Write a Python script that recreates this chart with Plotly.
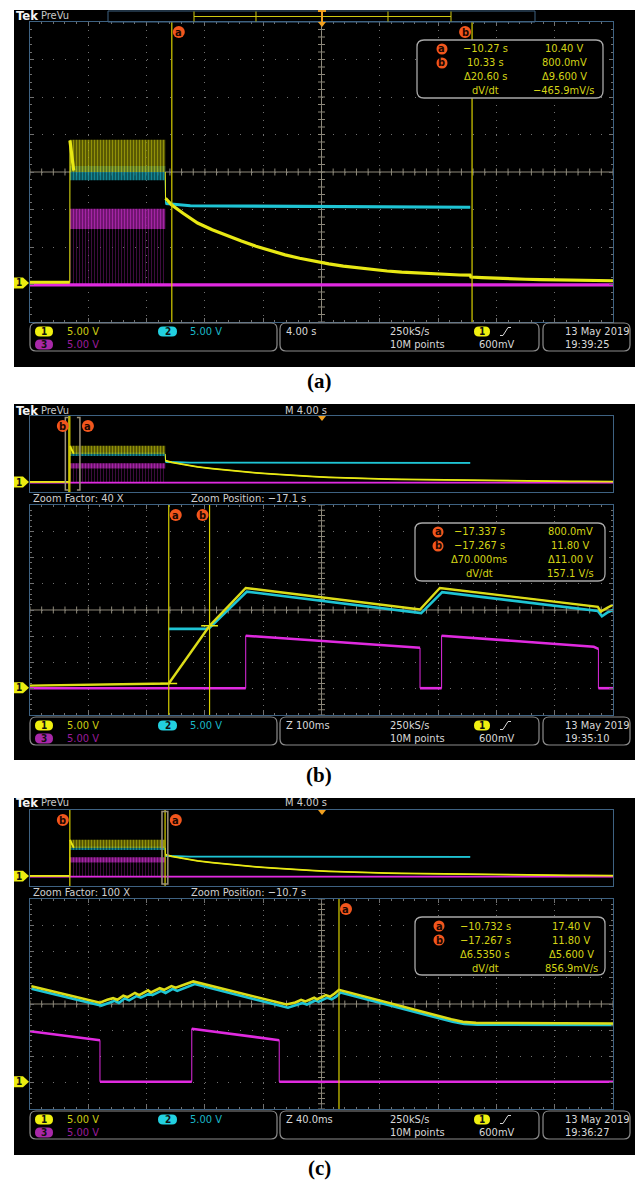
import numpy as np
import plotly.graph_objects as go

W, H = 638, 1182
SCREEN = "DejaVu Sans Condensed, Liberation Sans Narrow, sans-serif"
SERIF = "Liberation Serif, Times New Roman, serif"

# ======================= DATA =======================
# Full 40 s record (panel a and the overview strips of panels b, c): seconds / volts
rec_yel_t = [-20.0, -17.27, -17.26, -17.0, None, -10.72, -10.70, -10.27, -9.5, -8.5, -7.5, -6.5,
             -5.5, -4.5, -3.5, -2.5, -1.5, -0.5, 0.5, 1.5, 2.5, 3.5, 4.5, 5.5, 6.5, 7.5, 8.5,
             9.5, 10.2, 10.25, 11.0, 12.0, 13.0, 14.0, 15.0, 16.0, 17.0, 18.0, 19.0, 20.0]
rec_yel_v = [0.1, 0.1, 19.0, 15.0, None, 14.8, 11.3, 10.4, 9.3, 8.0, 7.1, 6.3,
             5.6, 4.9, 4.3, 3.75, 3.3, 2.9, 2.55, 2.25, 2.0, 1.8, 1.6, 1.45, 1.33, 1.22, 1.13,
             1.07, 1.05, 0.8, 0.72, 0.62, 0.55, 0.5, 0.45, 0.42, 0.38, 0.35, 0.32, 0.3]
rec_cyn_t = [-10.72, -10.70, -9.0, 10.2]
rec_cyn_v = [13.7, 10.6, 10.3, 10.1]
rec_mag_t = [-20.0, 20.0]
rec_mag_v = [-0.25, -0.25]
# switching burst envelopes
burst_t = [-17.25, -10.72]
burst_yel_lo, burst_yel_hi = [14.8, 14.8], [19.1, 19.1]
burst_cyn_lo, burst_cyn_hi = [13.7, 13.7], [15.6, 15.6]
burst_mag_lo, burst_mag_hi = [7.2, 7.2], [9.9, 9.9]
burst_pulse_lo, burst_pulse_hi = [-0.2, -0.2], [7.2, 7.2]

# Panel b zoom window (40 X)
zb_yel_t = [-17.575, -17.337, -17.30, -17.267, -17.235, -17.205, -16.906, -16.872, -16.601, -16.596, -16.585, -16.575]
zb_yel_v = [0.4, 0.8, 6.6, 11.8, 15.5, 19.0, 14.9, 19.0, 15.4, 14.5, 15.2, 15.8]
zb_cyn_t = [-17.337, -17.274, -17.267, -17.235, -17.203, -16.904, -16.868, -16.601, -16.594, -16.585, -16.575]
zb_cyn_v = [11.2, 11.2, 11.4, 14.9, 18.3, 14.2, 18.2, 14.6, 13.6, 14.3, 14.8]
zb_mag_t = [-17.575, -17.205, -17.205, -16.906, -16.906, -16.869, -16.869, -16.608, -16.600, -16.600, -16.575]
zb_mag_v = [-0.1, -0.1, 9.9, 7.6, -0.1, -0.1, 9.9, 7.8, 7.4, -0.1, -0.1]

# Panel c zoom window (100 X)
zc_yel_t = [-10.943, -10.896, -10.891, -10.887, -10.884, -10.880, -10.877, -10.872, -10.869, -10.863,
            -10.861, -10.855, -10.852, -10.847, -10.844, -10.838, -10.832, -10.768, -10.762, -10.758,
            -10.755, -10.749, -10.747, -10.741, -10.738, -10.735, -10.732, -10.655, -10.647, -10.638, -10.544]
zc_yel_v = [18.2, 15.05, 15.6, 15.9, 15.6, 16.4, 16.1, 16.9, 16.5, 17.4,
            17.0, 17.8, 17.5, 18.2, 17.9, 18.5, 19.1, 14.7, 15.1, 15.6,
            15.3, 16.0, 15.7, 16.5, 16.2, 16.8, 17.5, 11.9, 11.4, 11.2, 11.1]
zc_cyn_t = [-10.943, -10.895, -10.890, -10.886, -10.883, -10.879, -10.876, -10.871, -10.868, -10.862,
            -10.860, -10.854, -10.851, -10.846, -10.843, -10.837, -10.831, -10.767, -10.761, -10.757,
            -10.754, -10.748, -10.746, -10.740, -10.737, -10.734, -10.731, -10.654, -10.646, -10.637, -10.544]
zc_cyn_v = [17.7, 14.5, 15.0, 15.4, 15.0, 15.9, 15.5, 16.3, 16.0, 16.8,
            16.5, 17.3, 16.9, 17.7, 17.3, 18.0, 18.6, 14.1, 14.6, 15.0,
            14.7, 15.5, 15.2, 16.0, 15.7, 16.2, 17.0, 11.4, 11.0, 10.85, 10.8]
zc_mag_t = [-10.944, -10.896, -10.896, -10.833, -10.833, -10.773, -10.773, -10.544]
zc_mag_v = [9.6, 7.9, 0.0, 0.0, 10.1, 7.9, 0.0, 0.0]

# cursors, zoom windows, readouts, status text
cursor_a_t = [-10.27, -17.337, -10.732]
cursor_b_t = [10.33, -17.267, -17.267]
cursor_a_v = [10.40, 0.8, 17.40]
cursor_b_v = [0.8, 11.80, 11.80]
zoom_center = [-17.075, -10.744]
zoom_span = [1.0, 0.4]
zoom_factor = ["Zoom Factor: 40 X", "Zoom Factor: 100 X"]
zoom_pos = ["Zoom Position: −17.1 s", "Zoom Position: −10.7 s"]
readout_time = [["−10.27 s", "10.33 s", "Δ20.60 s", "dV/dt"],
                ["−17.337 s", "−17.267 s", "Δ70.000ms", "dV/dt"],
                ["−10.732 s", "−17.267 s", "Δ6.5350 s", "dV/dt"]]
readout_volt = [["10.40 V", "800.0mV", "Δ9.600 V", "−465.9mV/s"],
                ["800.0mV", "11.80 V", "Δ11.00 V", "157.1 V/s"],
                ["17.40 V", "11.80 V", "Δ5.600 V", "856.9mV/s"]]
ch_scale = ["5.00 V", "5.00 V", "5.00 V"]
timebase = ["4.00 s", "Z 100ms", "Z 40.0ms"]
clock = ["19:39:25", "19:35:10", "19:36:27"]
date = "13 May 2019"
captions = ["(a)", "(b)", "(c)"]

# ======================= STYLE =======================
FRAME = '#3e6282'
GRID = '#707070'
CROSS = '#8e897a'
YEL = '#e8e814'
YELZ = '#dcdc18'
CYN = '#1fc4d4'
MAG = '#e02ae0'
CUR = '#d8d000'
ORANGE = '#f2561d'
YTXT, CTXT, MTXT, WTXT = '#cccc12', '#1ab6c6', '#9a1c9a', '#d8d8d8'
RTXT = '#d4d416'
YR = [-5.2, 34.8]
YC = 14.8

fig = go.Figure()
shapes, annos = [], []


def X(x):
    return x / W


def Y(y):
    return 1 - y / H


def rect(x0, y0, x1, y1, fill=None, line=None, lw=1, layer='below'):
    shapes.append(dict(type='rect', xref='paper', yref='paper', x0=X(x0), x1=X(x1), y0=Y(y1), y1=Y(y0),
                       fillcolor=fill or 'rgba(0,0,0,0)',
                       line=dict(color=line or 'rgba(0,0,0,0)', width=lw if line else 0), layer=layer))


def path(pts, closed=False, fill=None, line=None, lw=1, layer='above'):
    d = 'M ' + ' L '.join(f'{X(x):.5f},{Y(y):.5f}' for x, y in pts) + (' Z' if closed else '')
    shapes.append(dict(type='path', xref='paper', yref='paper', path=d, fillcolor=fill or 'rgba(0,0,0,0)',
                       line=dict(color=line or 'rgba(0,0,0,0)', width=lw if line else 0), layer=layer))


def rrect(x0, y0, x1, y1, r, fill=None, line=None, lw=1, layer='above'):
    p = (f"M {X(x0 + r)},{Y(y0)} L {X(x1 - r)},{Y(y0)} Q {X(x1)},{Y(y0)} {X(x1)},{Y(y0 + r)} "
         f"L {X(x1)},{Y(y1 - r)} Q {X(x1)},{Y(y1)} {X(x1 - r)},{Y(y1)} L {X(x0 + r)},{Y(y1)} "
         f"Q {X(x0)},{Y(y1)} {X(x0)},{Y(y1 - r)} L {X(x0)},{Y(y0 + r)} Q {X(x0)},{Y(y0)} {X(x0 + r)},{Y(y0)} Z")
    shapes.append(dict(type='path', xref='paper', yref='paper', path=p, fillcolor=fill or 'rgba(0,0,0,0)',
                       line=dict(color=line or 'rgba(0,0,0,0)', width=lw if line else 0), layer=layer))


def txt(x, y, s, color, size=11, anchor='left', family=SCREEN, bold=False):
    annos.append(dict(xref='paper', yref='paper', x=X(x), y=Y(y), text=f'<b>{s}</b>' if bold else s,
                      showarrow=False, xanchor=anchor, yanchor='middle',
                      font=dict(family=family, size=size, color=color)))


def circ_label(cx, cy, letter, r=6):
    shapes.append(dict(type='circle', xref='paper', yref='paper', x0=X(cx - r), x1=X(cx + r),
                       y0=Y(cy + r), y1=Y(cy - r), fillcolor=ORANGE, line=dict(width=0), layer='above'))
    txt(cx, cy, letter, '#1a0600', 11, 'center', bold=True)


def pill(x0, x1, cy, color, label):
    rrect(x0, cy - 5, x1, cy + 5, 5, fill=color)
    txt((x0 + x1) / 2, cy, label, '#101010', 10, 'center', bold=True)


# axes geometry
GX0, GX1 = 30, 613
AX = [
    dict(id='', xr=[-20.0, 20.0], top=22, bot=322, grid=True, xdiv=4.0, xc=0.0),
    dict(id='2', xr=[-20.0, 20.0], top=416, bot=492, grid=False),
    dict(id='3', xr=[zoom_center[0] - zoom_span[0] / 2, zoom_center[0] + zoom_span[0] / 2], top=505, bot=715,
         grid=True, xdiv=zoom_span[0] / 10, xc=zoom_center[0]),
    dict(id='4', xr=[-20.0, 20.0], top=810, bot=886, grid=False),
    dict(id='5', xr=[zoom_center[1] - zoom_span[1] / 2, zoom_center[1] + zoom_span[1] / 2], top=899, bot=1109,
         grid=True, xdiv=zoom_span[1] / 10, xc=zoom_center[1]),
]


def tx(a, t):
    return GX0 + (t - a['xr'][0]) / (a['xr'][1] - a['xr'][0]) * (GX1 - GX0)


def ty(a, v):
    return a['top'] + (YR[1] - v) / (YR[1] - YR[0]) * (a['bot'] - a['top'])


# black screen backgrounds
SCREENS = [(10, 367), (404, 760), (798, 1155)]
for (t0, t1) in SCREENS:
    rect(14, t0, 635, t1, fill='black')

layout_axes = {}
for a in AX:
    xa = dict(domain=[X(GX0), X(GX1)], range=a['xr'], anchor='y' + a['id'], showticklabels=False,
              zeroline=False, showline=True, linecolor=FRAME, linewidth=1, fixedrange=True)
    ya = dict(domain=[Y(a['bot']), Y(a['top'])], range=YR, anchor='x' + a['id'], showticklabels=False,
              zeroline=False, showline=True, linecolor=FRAME, linewidth=1, fixedrange=True)
    if a['grid']:
        vdiv = (a['bot'] - a['top']) / 8.0
        hdiv = (GX1 - GX0) / 10.0
        xa.update(showgrid=True, gridcolor=GRID, gridwidth=1, griddash=f"1px,{vdiv / 5 - 1:.2f}px",
                  tick0=a['xc'], dtick=a['xdiv'], ticks='inside', ticklen=4, tickcolor=GRID, tickwidth=1,
                  mirror='ticks',
                  minor=dict(ticks='inside', ticklen=2, tick0=a['xc'], dtick=a['xdiv'] / 5,
                             tickcolor=GRID, tickwidth=1, showgrid=False))
        ya.update(showgrid=True, gridcolor=GRID, gridwidth=1, griddash=f"1px,{hdiv / 5 - 1:.2f}px",
                  tick0=YC, dtick=5, ticks='inside', ticklen=4, tickcolor=GRID, tickwidth=1, mirror='ticks',
                  minor=dict(ticks='inside', ticklen=2, tick0=YC, dtick=1, tickcolor=GRID, tickwidth=1,
                             showgrid=False))
        # crosshair
        cy = (a['top'] + a['bot']) / 2
        path([(GX0, cy), (GX1, cy)], line=CROSS, lw=1, layer='below')
        path([((GX0 + GX1) / 2, a['top']), ((GX0 + GX1) / 2, a['bot'])], line=CROSS, lw=1, layer='below')
        xs = np.arange(a['xr'][0], a['xr'][1] + 1e-9, a['xdiv'] / 5)
        fig.add_trace(go.Scatter(x=xs, y=[YC] * len(xs), xaxis='x' + a['id'], yaxis='y' + a['id'],
                                 mode='markers', hoverinfo='skip', showlegend=False,
                                 marker=dict(symbol='line-ns', size=5, color=CROSS,
                                             line=dict(color=CROSS, width=1))))
        ys = np.arange(YR[0], YR[1] + 1e-9, 1.0)
        fig.add_trace(go.Scatter(x=[a['xc']] * len(ys), y=ys, xaxis='x' + a['id'], yaxis='y' + a['id'],
                                 mode='markers', hoverinfo='skip', showlegend=False,
                                 marker=dict(symbol='line-ew', size=5, color=CROSS,
                                             line=dict(color=CROSS, width=1))))
    else:
        xa.update(showgrid=False, mirror=True, ticks='')
        ya.update(showgrid=False, mirror=True, ticks='')
    layout_axes['xaxis' + a['id']] = xa
    layout_axes['yaxis' + a['id']] = ya


def split_thick(ts, vs, span):
    xs, ys = [], []
    for i, (t, v) in enumerate(zip(ts, vs)):
        if i > 0 and t is not None and ts[i - 1] is not None and abs(t - ts[i - 1]) < span * 0.001:
            xs.append(None)
            ys.append(None)
        xs.append(t)
        ys.append(v)
    return xs, ys


def wave(ts, vs, a, color, width):
    span = a['xr'][1] - a['xr'][0]
    fig.add_trace(go.Scatter(x=ts, y=vs, xaxis='x' + a['id'], yaxis='y' + a['id'], mode='lines',
                             line=dict(color=color, width=1), hoverinfo='skip', showlegend=False))
    xs, ys = split_thick(ts, vs, span)
    fig.add_trace(go.Scatter(x=xs, y=ys, xaxis='x' + a['id'], yaxis='y' + a['id'], mode='lines',
                             line=dict(color=color, width=width), hoverinfo='skip', showlegend=False))


def band(ts, lo, hi, a, fg, bg, size=3, sol=0.45):
    xs = list(ts) + list(ts[::-1])
    ys = list(lo) + list(hi[::-1])
    fig.add_trace(go.Scatter(x=xs, y=ys, xaxis='x' + a['id'], yaxis='y' + a['id'], mode='lines',
                             fill='toself', fillcolor=bg,
                             fillpattern=dict(shape='|', fgcolor=fg, bgcolor=bg, size=size, solidity=sol),
                             line=dict(width=0), hoverinfo='skip', showlegend=False))


# full-record traces on panel a and the overviews
for a, w in [(AX[0], 3.2), (AX[1], 1.8), (AX[3], 1.8)]:
    band(burst_t, burst_pulse_lo, burst_pulse_hi, a, '#7a187a', 'rgba(0,0,0,0)', 3, 0.35)
    wave(rec_mag_t, rec_mag_v, a, MAG, w)
    band(burst_t, burst_mag_lo, burst_mag_hi, a, '#e838e8', 'rgba(120,20,120,0.8)', 3, 0.5)
    band(burst_t, burst_cyn_lo, burst_cyn_hi, a, '#22c8d8', 'rgba(10,90,100,0.8)', 3, 0.5)
    wave(rec_cyn_t, rec_cyn_v, a, CYN, w)
    band(burst_t, burst_yel_lo, burst_yel_hi, a, '#dada12', 'rgba(120,120,0,0.6)', 3, 0.5)
    wave(rec_yel_t, rec_yel_v, a, YEL, w)

# zoomed traces
wave(zb_mag_t, zb_mag_v, AX[2], MAG, 2.6)
wave(zb_cyn_t, zb_cyn_v, AX[2], CYN, 2.6)
wave(zb_yel_t, zb_yel_v, AX[2], YELZ, 2.4)
wave(zc_mag_t, zc_mag_v, AX[4], MAG, 2.6)
wave(zc_cyn_t, zc_cyn_v, AX[4], CYN, 2.6)
wave(zc_yel_t, zc_yel_v, AX[4], YELZ, 2.6)

# cursor intersection marks (panel b zoom)
fig.add_trace(go.Scatter(x=[cursor_a_t[1], cursor_b_t[1]], y=[cursor_a_v[1], cursor_b_v[1]],
                         xaxis='x3', yaxis='y3', mode='markers', hoverinfo='skip', showlegend=False,
                         marker=dict(symbol='line-ew', size=12, color=YEL, line=dict(color=YEL, width=1.5))))


def vcursor(a, t):
    shapes.append(dict(type='line', xref='x' + a['id'], yref='y' + a['id'] + ' domain', x0=t, x1=t, y0=0, y1=1,
                       line=dict(color=CUR, width=1.2), layer='above'))


# main cursors
main_axes = [AX[0], AX[2], AX[4]]
for i, a in enumerate(main_axes):
    vcursor(a, cursor_a_t[i])
    circ_label(tx(a, cursor_a_t[i]) + 7, a['top'] + 10, 'a')
    if i < 2:
        vcursor(a, cursor_b_t[i])
        circ_label(tx(a, cursor_b_t[i]) - 7, a['top'] + 10, 'b')

# overview cursors and zoom brackets
for k, a in enumerate([AX[1], AX[3]]):
    i = k + 1
    vcursor(a, cursor_b_t[i])
    vcursor(a, cursor_a_t[i])
    zl = tx(a, zoom_center[k] - zoom_span[k] / 2)
    zr = tx(a, zoom_center[k] + zoom_span[k] / 2)
    b0, b1 = a['top'] + 1.5, a['bot'] - 2
    path([(zl + 3, b0), (zl, b0), (zl, b1), (zl + 3, b1)], line='#9c927c', lw=1.5)
    path([(zr - 3, b0), (zr, b0), (zr, b1), (zr - 3, b1)], line='#9c927c', lw=1.5)
    circ_label(tx(a, cursor_b_t[i]) - 7, a['top'] + 10, 'b')
    circ_label(max(tx(a, cursor_a_t[i]), zr) + 8, a['top'] + 10, 'a')
    # trigger marker
    path([(318, a['top']), (326, a['top']), (322, a['top'] + 5)], closed=True, fill='#f0a020')

# ground markers
for a in AX:
    g = ty(a, 0.0)
    path([(14, g - 5.5), (23, g - 5.5), (29, g), (23, g + 5.5), (14, g + 5.5)], closed=True, fill='#ecec10')
    txt(19, g, '1', '#101010', 10, 'center', bold=True)

# record bar (panel a)
rect(108, 11, 535, 22, line=FRAME, lw=1, layer='above')
path([(194, 16.5), (451, 16.5)], line='#cfc810', lw=1)
for xb in [194, 256, 388, 451]:
    path([(xb, 11.5), (xb, 21.5)], line='#cfc810', lw=1)
path([(322, 11), (322, 22)], line='#f0a020', lw=2)
path([(318, 11), (326, 11)], line='#f0a020', lw=2)
path([(318, 22), (326, 22), (322, 27)], closed=True, fill='#f0a020')

# headers
tek_y = [16, 410, 803]
for i, ty0 in enumerate(tek_y):
    txt(14, ty0, 'Tek', '#f4f4f4', 13, bold=True)
    txt(39, ty0, 'PreVu', '#c8c8c8', 11)
    if i > 0:
        txt(306, ty0, 'M 4.00 s', '#d0d0d0', 11, 'center')

# zoom info lines
for k, zy in enumerate([498, 893]):
    txt(31, zy, zoom_factor[k], '#cfcfcf', 11)
    txt(189, zy, zoom_pos[k], '#cfcfcf', 11)

# readout boxes
RO = [dict(x0=417, x1=603, y0=40, y1=98, rows=[49, 63, 77, 91], cx=442, tc=485, vc=564),
      dict(x0=415, x1=605, y0=523, y1=581, rows=[532, 546, 560, 573], cx=438, tc=479, vc=570),
      dict(x0=415, x1=605, y0=917, y1=975, rows=[926, 940, 954, 968], cx=439, tc=485, vc=571)]
for i, r in enumerate(RO):
    rrect(r['x0'], r['y0'], r['x1'], r['y1'], 7, fill='black', line='#a8a8a8', lw=1.3)
    circ_label(r['cx'], r['rows'][0], 'a', 5.5)
    circ_label(r['cx'], r['rows'][1], 'b', 5.5)
    for j in range(4):
        txt(r['tc'], r['rows'][j], readout_time[i][j], RTXT, 11, 'center')
        txt(r['vc'], r['rows'][j], readout_volt[i][j], RTXT, 11, 'center')

# status bars
STATUS_TOP = [323, 717, 1111]
for i, top in enumerate(STATUS_TOP):
    rrect(30, top, 277, top + 28, 6, fill='black', line='#8c8c8c', lw=1.2)
    rrect(280, top, 539, top + 28, 6, fill='black', line='#8c8c8c', lw=1.2)
    rrect(543, top, 630, top + 28, 6, fill='black', line='#8c8c8c', lw=1.2)
    r1, r2 = top + 8.5, top + 21.5
    pill(35, 53, r1, '#f0f010', '1')
    txt(65, r1, ch_scale[0], YTXT, 11)
    pill(158, 177, r1, '#22d0e0', '2')
    txt(188, r1, ch_scale[1], CTXT, 11)
    pill(35, 53, r2, '#a828a8', '3')
    txt(65, r2, ch_scale[2], MTXT, 11)
    txt(284, r1, timebase[i], WTXT, 11)
    txt(388, r1, '250kS/s', WTXT, 11)
    txt(388, r2, '10M points', WTXT, 11)
    pill(474, 490, r1, '#f0f010', '1')
    path([(500, r1 + 4), (503, r1 + 4), (508, r1 - 4), (511, r1 - 4)], line=WTXT, lw=1)
    txt(477, r2, '600mV', WTXT, 11)
    txt(563, r1, date, WTXT, 11)
    txt(563, r2, clock[i], WTXT, 11)

# captions
for cap, cyp in zip(captions, [381, 775, 1168]):
    txt(319, cyp, cap, '#000000', 21, 'center', family=SERIF, bold=True)

fig.update_layout(width=W, height=H, margin=dict(l=0, r=0, t=0, b=0), paper_bgcolor='white',
                  plot_bgcolor='rgba(0,0,0,0)', showlegend=False, shapes=shapes, annotations=annos,
                  **layout_axes)
fig.write_html("out.html", config={'displayModeBar': False, 'staticPlot': True},
               post_script="document.body.style.margin='0';document.body.style.padding='0';"
                           "document.body.style.overflow='hidden';")
